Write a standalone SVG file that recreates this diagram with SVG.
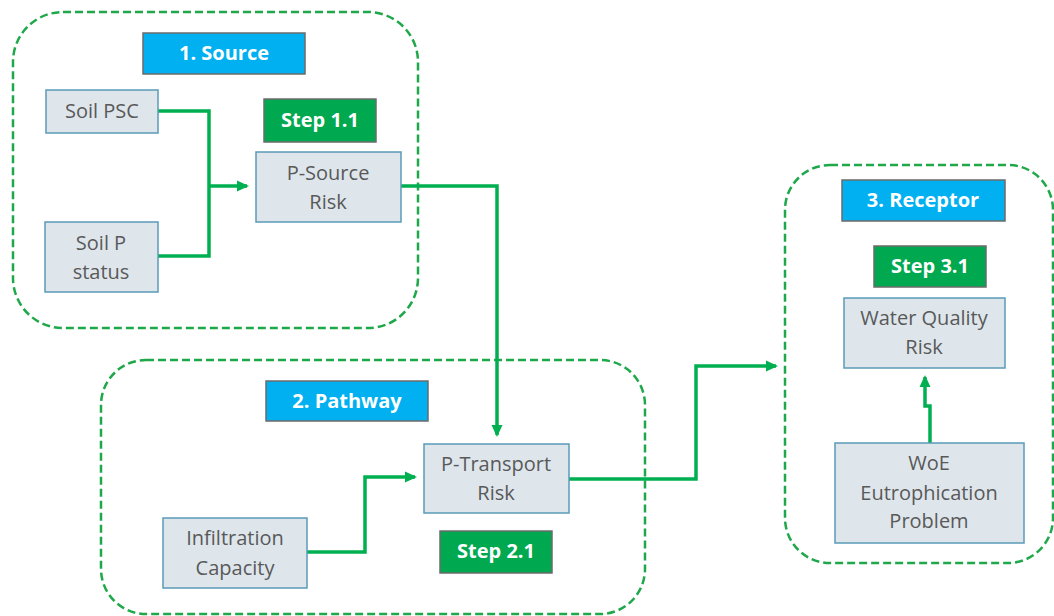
<svg xmlns="http://www.w3.org/2000/svg" width="1054" height="616" viewBox="0 0 1054 616">
<defs>
<style>
.grp{fill:none;stroke:#1FA84A;stroke-width:2.5;stroke-dasharray:8 4}
.node{fill:#DEE6EC;stroke:#5A9BB8;stroke-width:1.5}
.hdr{fill:#00B0F0;stroke:#6B6B6B;stroke-width:1.5}
.step{fill:#00A84F;stroke:#6B6B6B;stroke-width:1.5}
.nt{font-family:"Open Sans","Noto Sans",sans-serif;font-size:20px;fill:#595959;text-anchor:middle}
.lt{font-family:"Open Sans","Noto Sans",sans-serif;font-size:20px;font-weight:bold;fill:#FFFFFF;text-anchor:middle}
.conn{fill:none;stroke:#00B050;stroke-width:3.5;stroke-linejoin:miter}
</style>
<marker id="arr" markerWidth="12" markerHeight="12" refX="10" refY="6" orient="auto" markerUnits="userSpaceOnUse" viewBox="0 0 12 12">
<path d="M0,0.5 L12,6 L0,11.5 z" fill="#00B050"/>
</marker>
</defs>
<rect width="1054" height="616" fill="#FFFFFF"/>
<g id="group-source">
<rect class="grp" x="13" y="12" width="405" height="316" rx="50"/>
<rect class="hdr" x="143" y="33" width="162" height="41"/>
<text class="lt" x="224" y="60">1. Source</text>
</g>
<g id="group-pathway">
<rect class="grp" x="101" y="360" width="544" height="254" rx="45"/>
<rect class="hdr" x="266" y="381" width="162" height="40"/>
<text class="lt" x="347" y="408">2. Pathway</text>
</g>
<g id="group-receptor">
<rect class="grp" x="785" y="165" width="268" height="398" rx="45"/>
<rect class="hdr" x="842" y="180" width="163" height="41"/>
<text class="lt" x="923" y="207">3. Receptor</text>
</g>
<g id="connectors">
<path class="conn" d="M158,111 H209 V256 H158"/>
<path class="conn" d="M209,186 H247" marker-end="url(#arr)"/>
<path class="conn" d="M401,186 H497 V435" marker-end="url(#arr)"/>
<path class="conn" d="M307,552 H365 V477 H415" marker-end="url(#arr)"/>
<path class="conn" d="M569,479 H696 V366 H776" marker-end="url(#arr)"/>
<path class="conn" d="M930,443 V406 H925 V377" marker-end="url(#arr)"/>
</g>
<g id="soil-psc">
<rect class="node" x="46" y="90" width="112" height="43"/>
<text class="nt" x="102" y="118">Soil PSC</text>
</g>
<g id="step-1-1">
<rect class="step" x="264" y="99" width="112" height="43"/>
<text class="lt" x="320" y="127">Step 1.1</text>
</g>
<g id="p-source-risk">
<rect class="node" x="256" y="152" width="145" height="70"/>
<text class="nt" x="328" y="180">P-Source</text>
<text class="nt" x="328" y="209">Risk</text>
</g>
<g id="soil-p-status">
<rect class="node" x="45" y="222" width="113" height="70"/>
<text class="nt" x="101" y="250">Soil P</text>
<text class="nt" x="101" y="279">status</text>
</g>
<g id="p-transport-risk">
<rect class="node" x="424" y="444" width="145" height="69"/>
<text class="nt" x="496" y="471">P-Transport</text>
<text class="nt" x="496" y="500">Risk</text>
</g>
<g id="step-2-1">
<rect class="step" x="440" y="531" width="112" height="42"/>
<text class="lt" x="496" y="558">Step 2.1</text>
</g>
<g id="infiltration-capacity">
<rect class="node" x="163" y="518" width="144" height="70"/>
<text class="nt" x="235" y="545">Infiltration</text>
<text class="nt" x="235" y="575">Capacity</text>
</g>
<g id="step-3-1">
<rect class="step" x="874" y="246" width="112" height="41"/>
<text class="lt" x="930" y="273">Step 3.1</text>
</g>
<g id="water-quality-risk">
<rect class="node" x="844" y="298" width="161" height="70"/>
<text class="nt" x="924" y="325">Water Quality</text>
<text class="nt" x="924" y="354">Risk</text>
</g>
<g id="woe-eutrophication-problem">
<rect class="node" x="835" y="443" width="189" height="100"/>
<text class="nt" x="929" y="470">WoE</text>
<text class="nt" x="929" y="500">Eutrophication</text>
<text class="nt" x="929" y="528">Problem</text>
</g>
</svg>
